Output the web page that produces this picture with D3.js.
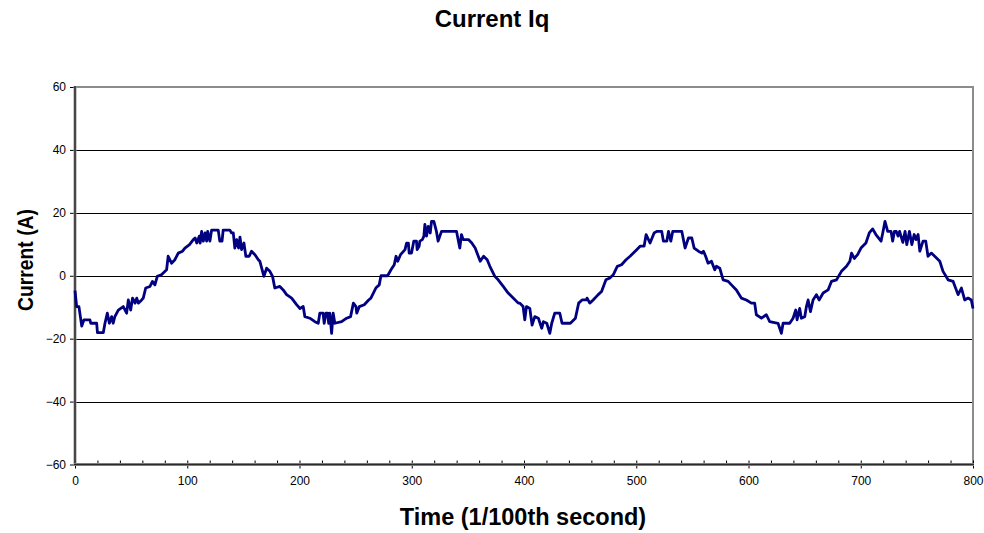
<!DOCTYPE html>
<html>
<head>
<meta charset="utf-8">
<script src="https://cdn.jsdelivr.net/npm/d3@7"></script>
<style>
  html, body { margin: 0; padding: 0; background: #fff; }
  svg { display: block; font-family: "Liberation Sans", Arial, sans-serif; }
</style>
</head>
<body>
<svg id="chart" width="984" height="533"></svg>
<script>
// Iq current trace, time in 1/100th second
const time = [
  0, 1.5, 3.5, 6, 8, 13.3, 14, 19.3, 20, 25.2, 26.7, 28.8, 30.6, 32.6, 34, 35.5, 38.6, 43, 46, 47.5,
  49.6, 51.3, 53.5, 55, 56.4, 59.4, 60.8, 63, 66.8, 69, 71.2, 73.3, 77, 81.6, 83, 86, 89, 92, 95.8, 97.9,
  102, 105.4, 107, 108.5, 110.7, 111.5, 112.8, 114.3, 115.8, 117.3, 118.2, 120.2, 121.7, 127.6, 129, 131, 132, 138, 139.5, 141,
  142.4, 144, 145.7, 147, 148.4, 150.5, 152.2, 155.2, 157.3, 160.3, 163.3, 164.7, 168.3, 170.7, 173.6, 176, 178, 182.5, 185.5, 188.5,
  193, 197.4, 200.4, 203.3, 204.8, 209.2, 213.7, 216.7, 218.1, 221, 222, 223.5, 225, 226, 227, 228.6, 230, 231.5, 237.5, 242,
  245.5, 248, 250.3, 251, 253.3, 257.7, 261.6, 263.6, 268, 271, 272.6, 278.5, 281.5, 284.4, 286, 287.5, 290, 294, 295.4, 297,
  297.7, 299.8, 301.8, 304.2, 304.8, 306.6, 307.2, 309.5, 310.8, 311.7, 313.2, 314.7, 316.5, 317.6, 319.7, 322, 323.5, 326.5, 339.9, 342.8,
  344.3, 345.8, 350.5, 353.5, 356.5, 361, 364, 367.2, 369.6, 374, 377, 381.5, 385.9, 390.4, 394.9, 396.3, 399.2, 400.7, 402.2, 405.2,
  407.2, 409.6, 412.8, 415.8, 417.3, 420.3, 423, 424.7, 427.4, 431.9, 433.9, 441.3, 445.8, 448.7, 451.7, 455.6, 456.2, 458.6, 461.6, 466.1,
  469.1, 473, 476.5, 479.5, 483.1, 486.9, 490.9, 494.5, 500.4, 503.4, 507, 508.8, 512.3, 515.9, 518.3, 522.7, 524.2, 527.2, 528.7, 530.8,
  532.5, 540.6, 543.5, 546.5, 549.5, 551.6, 555.4, 558.4, 559.9, 561.8, 564, 567, 569.9, 571.4, 574.4, 577.4, 581.9, 584.8, 589.2, 593.6,
  598.1, 602.6, 605.5, 607, 611.5, 615.9, 618.9, 626.3, 629.3, 630.8, 636.7, 639.7, 642.1, 643.3, 645.6, 647.1, 650.1, 651.6, 653.1, 655.2,
  657.5, 660.5, 662.9, 666.5, 670.9, 673.9, 678.4, 682.8, 687.3, 690.3, 691.8, 694.2, 697.2, 700.2, 704.6, 707.6, 710.6, 713.5, 718.1, 719.6,
  721.6, 724, 727, 728.4, 730, 731.7, 733.2, 734.6, 737.5, 739.5, 741, 743.4, 745.5, 747.6, 749.3, 751.1, 752.6, 755.5, 757.9, 759.9,
  762.9, 765.9, 770.4, 773.3, 777.8, 782.3, 786.7, 789.7, 792.6, 795.6, 798.5, 800
];
const current = [
  -4.7, -9.8, -9.8, -16.0, -14.0, -14.0, -15.1, -15.1, -18.1, -18.1, -15.1, -11.9, -15.1, -13.0, -15.1, -13.0, -10.9, -9.8, -11.9, -7.7,
  -10.9, -7.1, -8.7, -7.1, -8.7, -7.7, -7.1, -3.9, -3.4, -1.8, -2.9, -0.2, 0.3, 1.9, 6.2, 4.0, 5.1, 7.2, 7.8, 8.8,
  9.9, 11.5, 12.0, 10.4, 12.6, 10.4, 14.1, 11.0, 13.6, 11.0, 14.1, 11.0, 14.5, 14.5, 11.0, 11.0, 14.5, 14.5, 13.6, 13.6,
  8.8, 11.5, 8.8, 12.3, 8.3, 10.4, 6.2, 6.2, 7.8, 6.7, 5.1, 4.6, -0.2, 2.4, 1.4, -0.2, -3.9, -3.4, -4.5, -6.0,
  -7.1, -9.2, -10.4, -9.8, -13.0, -13.5, -14.6, -15.1, -11.9, -11.9, -15.1, -11.9, -11.9, -15.1, -11.9, -18.3, -11.9, -15.1, -14.6, -13.5,
  -13.0, -8.7, -9.8, -11.9, -9.8, -9.2, -7.7, -7.1, -3.9, -2.9, 0, 0, 1.9, 3.5, 6.2, 4.6, 6.7, 8.3, 10.4, 10.4,
  7.2, 7.2, 11.0, 11.0, 8.3, 9.4, 11.0, 11.5, 12.6, 16.3, 12.6, 15.7, 13.6, 17.3, 17.3, 14.1, 11.0, 14.1, 14.1, 8.8,
  13.1, 11.5, 11.5, 10.4, 8.8, 4.6, 6.2, 5.1, 3.0, -0.2, -1.3, -3.4, -5.5, -7.1, -8.7, -8.7, -9.8, -14.0, -9.8, -10.4,
  -15.7, -13.0, -13.5, -16.7, -14.6, -15.1, -18.3, -15.1, -11.9, -11.9, -15.1, -15.1, -13.5, -8.7, -7.7, -7.7, -7.1, -8.7, -7.7, -6.0,
  -5.0, -1.3, -0.7, 0.3, 3.0, 3.5, 5.1, 6.2, 8.3, 9.4, 9.4, 13.1, 10.4, 13.6, 14.1, 14.1, 11.0, 11.0, 14.1, 11.0,
  14.1, 14.1, 8.8, 12.0, 12.0, 8.8, 7.8, 7.2, 7.8, 6.2, 4.0, 4.6, 1.9, 3.0, 2.4, -1.3, -1.8, -2.9, -4.5, -7.1,
  -7.7, -8.7, -8.7, -12.4, -13.5, -12.4, -14.6, -15.1, -18.3, -15.1, -15.1, -13.5, -10.9, -14.0, -10.4, -13.5, -13.0, -9.8, -7.7, -11.4,
  -7.7, -6.0, -7.7, -5.5, -4.5, -1.8, -1.3, 1.4, 3.0, 4.6, 7.2, 5.5, 6.7, 8.8, 10.4, 13.6, 14.9, 13.1, 11.0, 13.6,
  17.3, 14.1, 14.1, 11.0, 14.1, 14.1, 12.6, 14.1, 10.6, 14.1, 9.9, 14.1, 9.9, 13.1, 11.5, 13.1, 7.8, 11.0, 11.0, 6.2,
  7.2, 6.2, 4.6, 1.4, -1.3, -1.8, -6.0, -3.9, -7.7, -7.1, -7.7, -10.4
];
const yTicks = [-60, -40, -20, 0, 20, 40, 60];
const xTicks = [0, 100, 200, 300, 400, 500, 600, 700, 800];
const xMinorTicks = d3.range(0, 801, 20);
const chartTitle = "Current Iq";
const xTitle = "Time (1/100th second)";
const yTitle = "Current (A)";

const svg = d3.select("#chart");
const plotLeft = 75, plotRight = 973, plotTop = 87, plotBottom = 464.5;

const x = d3.scaleLinear().domain([0, 800]).range([plotLeft, plotRight]);
const y = d3.scaleLinear().domain([-60, 60]).range([plotBottom, plotTop]);

// horizontal gridlines
svg.append("g").selectAll("line")
  .data(yTicks.filter(d => d > -60 && d < 60))
  .join("line")
  .attr("x1", plotLeft).attr("x2", plotRight)
  .attr("y1", d => Math.round(y(d)) + 0.5).attr("y2", d => Math.round(y(d)) + 0.5)
  .attr("stroke", "#000").attr("stroke-width", 1);

// top and right plot borders
svg.append("line").attr("x1", plotLeft).attr("x2", plotRight + 1).attr("y1", plotTop).attr("y2", plotTop)
  .attr("stroke", "#8c8c8c").attr("stroke-width", 2);
svg.append("line").attr("x1", plotRight).attr("x2", plotRight).attr("y1", plotTop).attr("y2", plotBottom)
  .attr("stroke", "#8c8c8c").attr("stroke-width", 2);

// y axis
const yAxis = d3.axisLeft(y).tickValues(yTicks).tickSize(5).tickPadding(4);
const gy = svg.append("g").attr("transform", `translate(${plotLeft},0)`).call(yAxis);
gy.select(".domain").remove();
gy.selectAll(".tick line").attr("stroke", "#000");
gy.selectAll(".tick text").attr("font-size", 12).attr("fill", "#000")
  .attr("font-family", "'Liberation Sans', Arial, sans-serif");

// x axis: minor ticks inside, major ticks crossing
const gxMinor = svg.append("g").attr("transform", `translate(0,${plotBottom})`)
  .call(d3.axisBottom(x).tickValues(xMinorTicks).tickSize(-4).tickFormat(""));
gxMinor.select(".domain").remove();
gxMinor.selectAll(".tick line").attr("stroke", "#000");

const gx = svg.append("g").attr("transform", `translate(0,${plotBottom})`)
  .call(d3.axisBottom(x).tickValues(xTicks).tickSize(4).tickPadding(8));
gx.select(".domain").remove();
gx.selectAll(".tick line").attr("stroke", "#000");
gx.selectAll(".tick text").attr("font-size", 12).attr("fill", "#000")
  .attr("font-family", "'Liberation Sans', Arial, sans-serif");

// axis lines
svg.append("line").attr("x1", plotLeft).attr("x2", plotLeft).attr("y1", plotTop - 1).attr("y2", plotBottom + 1)
  .attr("stroke", "#9a9a9a").attr("stroke-width", 3);
svg.append("line").attr("x1", plotLeft).attr("x2", plotLeft).attr("y1", plotTop - 1).attr("y2", plotBottom + 1)
  .attr("stroke", "#2a2a2a").attr("stroke-width", 1.5);
svg.append("line").attr("x1", plotLeft - 1).attr("x2", plotRight + 1).attr("y1", plotBottom).attr("y2", plotBottom)
  .attr("stroke", "#9a9a9a").attr("stroke-width", 3);
svg.append("line").attr("x1", plotLeft - 1).attr("x2", plotRight + 1).attr("y1", plotBottom).attr("y2", plotBottom)
  .attr("stroke", "#2a2a2a").attr("stroke-width", 1.5);

// series
const pts = time.map((t, i) => [t, current[i]]);
svg.append("path")
  .datum(pts)
  .attr("fill", "none")
  .attr("stroke", "#000080")
  .attr("stroke-width", 2.8)
  .attr("stroke-linejoin", "round")
  .attr("d", d3.line().x(d => x(d[0])).y(d => y(d[1])));

// titles
svg.append("text").attr("x", 492).attr("y", 27).attr("text-anchor", "middle")
  .attr("font-size", 24).attr("font-weight", "bold").text(chartTitle);
svg.append("text").attr("x", 523).attr("y", 525).attr("text-anchor", "middle")
  .attr("font-size", 23.5).attr("font-weight", "bold").text(xTitle);
svg.append("text").attr("transform", "translate(33,260) rotate(-90)").attr("text-anchor", "middle")
  .attr("font-size", 21.5).attr("font-weight", "bold")
  .attr("textLength", 102).attr("lengthAdjust", "spacingAndGlyphs")
  .text(yTitle);
</script>
</body>
</html>
